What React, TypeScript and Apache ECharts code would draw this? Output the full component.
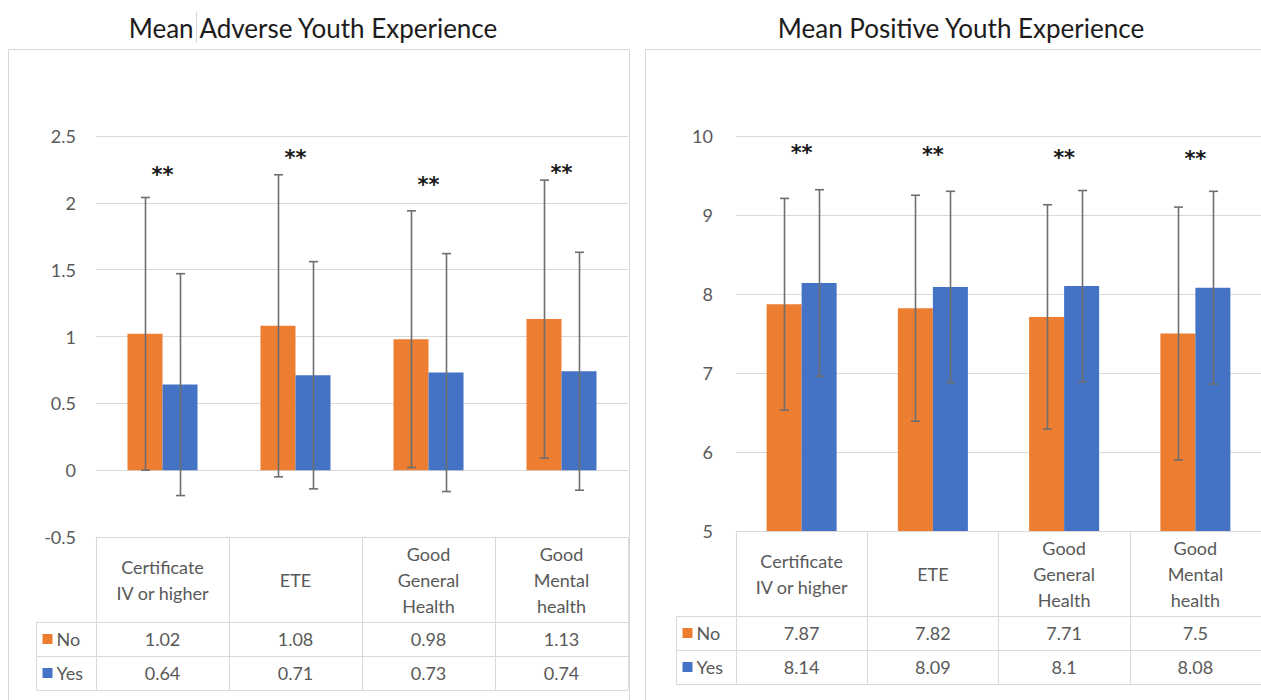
import React, { useEffect, useRef } from 'react';
import * as echarts from 'echarts';

// Shared categories and groups
const categories = ['Certificate\nIV or higher', 'ETE', 'Good\nGeneral\nHealth', 'Good\nMental\nhealth'];
const groupNames = ['No', 'Yes'];
const groupColors = ['#ED7D31', '#4472C4'];

// Mean Adverse Youth Experience
const adverseTitle = 'Mean Adverse Youth Experience';
const adverseNo = [1.02, 1.08, 0.98, 1.13];
const adverseYes = [0.64, 0.71, 0.73, 0.74];
const adverseNoSd = [1.02, 1.13, 0.96, 1.04];
const adverseYesSd = [0.83, 0.85, 0.89, 0.89];
const adverseStarLevel = [2.25, 2.38, 2.18, 2.27];
const adverseMin = -0.5;
const adverseMax = 2.5;
const adverseStep = 0.5;

// Mean Positive Youth Experience
const positiveTitle = 'Mean Positive Youth Experience';
const positiveNo = [7.87, 7.82, 7.71, 7.5];
const positiveYes = [8.14, 8.09, 8.1, 8.08];
const positiveNoSd = [1.34, 1.43, 1.42, 1.6];
const positiveYesSd = [1.18, 1.21, 1.21, 1.22];
const positiveStarLevel = [9.86, 9.84, 9.8, 9.79];
const positiveMin = 5;
const positiveMax = 10;
const positiveStep = 1;

const FONT = 'Lato, "Open Sans", sans-serif';
const GRAY_TEXT = '#595959';
const LINE = '#D9D9D9';
const ERR = '#6E6E6E';
const BAR_W = 35;
const HEADER_H = 85;
const ROW_H = 34;
const STAR_DY = 6;
const TEXT_SIZE = 18;

const panels = [
  {
    title: adverseTitle, titleX: 313,
    box: { x: 8.5, y: 49.5, width: 621, height: 680 },
    grid: { left: 96, top: 136, width: 532, height: 401 },
    labelMargin: 20,
    min: adverseMin, max: adverseMax, step: adverseStep,
    values: [adverseNo, adverseYes], sds: [adverseNoSd, adverseYesSd], stars: adverseStarLevel,
  },
  {
    title: positiveTitle, titleX: 961,
    box: { x: 645.5, y: 49.5, width: 700, height: 680 },
    grid: { left: 736, top: 136, width: 536, height: 395 },
    labelMargin: 23,
    min: positiveMin, max: positiveMax, step: positiveStep,
    values: [positiveNo, positiveYes], sds: [positiveNoSd, positiveYesSd], stars: positiveStarLevel,
  },
];

function errorSeries(g: number, means: number[], sds: number[], offset: number) {
  return {
    type: 'custom',
    xAxisIndex: g,
    yAxisIndex: g,
    z: 5,
    silent: true,
    data: means.map((m, i) => [i, m - sds[i], m + sds[i]]),
    renderItem: (_p: any, api: any) => {
      const i = api.value(0);
      const lo = api.coord([i, api.value(1)]);
      const hi = api.coord([i, api.value(2)]);
      const x = Math.round(lo[0] + offset) + 0.5;
      const cap = 4.5;
      const style = { stroke: ERR, lineWidth: 1.6 };
      return {
        type: 'group',
        children: [
          { type: 'line', shape: { x1: x, y1: lo[1], x2: x, y2: hi[1] }, style },
          { type: 'line', shape: { x1: x - cap, y1: lo[1], x2: x + cap, y2: lo[1] }, style },
          { type: 'line', shape: { x1: x - cap, y1: hi[1], x2: x + cap, y2: hi[1] }, style },
        ],
      };
    },
  };
}

function starSeries(g: number, levels: number[]) {
  return {
    type: 'custom',
    xAxisIndex: g,
    yAxisIndex: g,
    z: 6,
    silent: true,
    data: levels.map((v, i) => [i, v]),
    renderItem: (_p: any, api: any) => {
      const pt = api.coord([api.value(0), api.value(1)]);
      return {
        type: 'text',
        x: pt[0],
        y: pt[1] + STAR_DY,
        style: {
          text: '**',
          fill: '#1a1a1a',
          font: 'bold 21px "DejaVu Sans", sans-serif',
          textAlign: 'center',
          textVerticalAlign: 'middle',
        },
      };
    },
  };
}

function buildOption() {
  const grid: any[] = [];
  const xAxis: any[] = [];
  const yAxis: any[] = [];
  const series: any[] = [];
  panels.forEach((p, g) => {
    grid.push({ ...p.grid, containLabel: false });
    xAxis.push({
      type: 'category',
      gridIndex: g,
      data: categories,
      position: 'bottom',
      axisLine: { show: true, onZero: false, lineStyle: { color: LINE, width: 1 } },
      axisTick: { show: true, length: HEADER_H + 2 * ROW_H, lineStyle: { color: LINE, width: 1 } },
      axisLabel: {
        margin: HEADER_H / 2,
        verticalAlign: 'middle',
        align: 'center',
        lineHeight: 26,
        fontSize: TEXT_SIZE,
        fontFamily: FONT,
        color: GRAY_TEXT,
        interval: 0,
      },
    });
    yAxis.push({
      type: 'value',
      gridIndex: g,
      min: p.min,
      max: p.max,
      interval: p.step,
      axisLine: { show: false },
      axisTick: { show: false },
      splitLine: { lineStyle: { color: LINE, width: 1 } },
      axisLabel: { margin: p.labelMargin, fontSize: TEXT_SIZE, fontFamily: FONT, color: GRAY_TEXT },
    });
    groupNames.forEach((name, k) => {
      series.push({
        name,
        type: 'bar',
        xAxisIndex: g,
        yAxisIndex: g,
        data: p.values[k],
        barWidth: BAR_W,
        barGap: '0%',
        itemStyle: { color: groupColors[k] },
        silent: true,
      });
    });
    series.push(errorSeries(g, p.values[0], p.sds[0], -BAR_W / 2));
    series.push(errorSeries(g, p.values[1], p.sds[1], BAR_W / 2));
    series.push(starSeries(g, p.stars));
  });
  return {
    animation: false,
    backgroundColor: '#ffffff',
    grid,
    xAxis,
    yAxis,
    series,
  };
}

function buildGraphics(chart: echarts.ECharts) {
  const els: any[] = [];
  const text = (x: number, y: number, t: string, align: string, font: string, fill: string) => ({
    type: 'text',
    x,
    y,
    silent: true,
    style: { text: t, font, fill, textAlign: align, textVerticalAlign: 'middle' },
  });
  const line = (x1: number, y1: number, x2: number, y2: number, stroke = LINE) => ({
    type: 'line',
    silent: true,
    shape: { x1, y1, x2, y2 },
    style: { stroke, lineWidth: 1 },
  });

  panels.forEach((p, g) => {
    // Panel frame and title
    els.push({
      type: 'rect',
      silent: true,
      shape: { ...p.box },
      style: { fill: 'none', stroke: LINE, lineWidth: 1 },
    });
    els.push(text(p.titleX, 28, p.title, 'center', `26px ${FONT}`, '#1c1c1c'));

    // Data table under the plot
    const centers = categories.map((_, i) => chart.convertToPixel({ xAxisIndex: g }, i) as number);
    const step = centers[1] - centers[0];
    const right = centers[centers.length - 1] + step / 2;
    const left = centers[0] - step / 2;
    const top = Math.round(chart.convertToPixel({ yAxisIndex: g }, p.min) as number);
    const legendLeft = Math.round(left - 60) + 0.5;
    const rowTops = [top + HEADER_H, top + HEADER_H + ROW_H, top + HEADER_H + 2 * ROW_H];
    rowTops.forEach((y) => els.push(line(legendLeft, y + 0.5, right, y + 0.5)));
    els.push(line(legendLeft, rowTops[0], legendLeft, rowTops[2] + 0.5));

    groupNames.forEach((name, k) => {
      const cy = rowTops[k] + ROW_H / 2;
      els.push({
        type: 'rect',
        silent: true,
        shape: { x: legendLeft + 6, y: cy - 5, width: 10, height: 10 },
        style: { fill: groupColors[k] },
      });
      els.push(text(legendLeft + 20, cy, name, 'left', `${TEXT_SIZE}px ${FONT}`, GRAY_TEXT));
      p.values[k].forEach((v, i) => {
        els.push(text(centers[i], cy, String(v), 'center', `${TEXT_SIZE}px ${FONT}`, GRAY_TEXT));
      });
    });
  });

  // Text caret left in the first title
  els.push(line(196.5, 12, 196.5, 43, '#d6d6d6'));
  return els;
}

export default function App() {
  const ref = useRef<HTMLDivElement>(null);
  useEffect(() => {
    if (!ref.current) return;
    const chart = echarts.init(ref.current, null, { renderer: 'svg' });
    chart.setOption(buildOption() as any);
    chart.setOption({ graphic: buildGraphics(chart) } as any);
    return () => chart.dispose();
  }, []);
  return (
    <div
      ref={ref}
      style={{ position: 'fixed', left: 0, top: 0, width: 1261, height: 700, background: '#fff' }}
    />
  );
}
